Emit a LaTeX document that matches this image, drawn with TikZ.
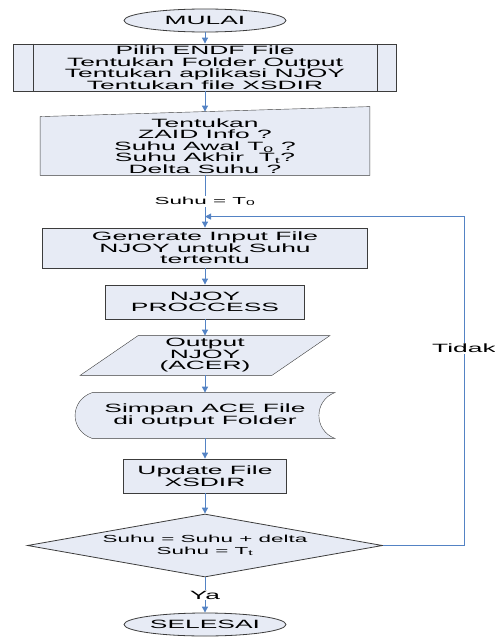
\documentclass[tikz,border=0pt]{standalone}
\usepackage{fontspec}
\setmainfont{Liberation Sans}[FakeStretch=2.2]
\usetikzlibrary{positioning,calc,shapes,shapes.geometric,arrows.meta,backgrounds}
\definecolor{boxfill}{RGB}{231,235,245}
\definecolor{flowblue}{RGB}{84,131,196}
\definecolor{boxedge}{RGB}{60,60,60}

\begin{document}
\begin{tikzpicture}[on grid,line width=0.8pt]
\tikzset{>={Triangle[length=6pt,width=6pt]}}
\tikzset{every node/.style={inner sep=0pt,align=center,font=\fontsize{12}{11.5}\selectfont},
  box/.style={rectangle,draw=boxedge,fill=boxfill},
  term/.style={ellipse,draw=boxedge,fill=boxfill,minimum width=162pt,minimum height=23pt},
  bgshape/.style={draw=boxedge,fill=boxfill},
  small/.style={font=\fontsize{10.2}{12}\selectfont},
  lbl/.style={fill=white,text=black,inner sep=1pt},
  flow/.style={color=flowblue,line width=0.9pt,->}}
\useasboundingbox (-205pt,20.5pt) rectangle (290pt,-616.5pt);
  \node[term] (mulai) {MULAI};
  \node[box,minimum width=383pt,minimum height=47pt] (pilih) [below=47pt of mulai]
       {Pilih ENDF File\\Tentukan Folder Output\\Tentukan aplikasi NJOY\\Tentukan file XSDIR};
  \node[minimum width=329pt,minimum height=58pt] (zaid) [below=78.5pt of pilih]
       {Tentukan\\ZAID Info ?\\Suhu Awal T\textsubscript{0} ?\\Suhu Akhir~ T\textsubscript{t}?\\Delta Suhu ?};
  \node[box,minimum width=325pt,minimum height=40pt] (gen) [below=102pt of zaid]
       {Generate Input File\\NJOY untuk Suhu\\tertentu};
  \node[box,minimum width=199pt,minimum height=34pt] (njoy) [below=54pt of gen]
       {NJOY\\PROCCESS};
  \node[minimum width=249pt,minimum height=39pt] (acer) [below=53.5pt of njoy]
       {Output\\NJOY\\(ACER)};
  \node[minimum width=259pt,minimum height=45pt] (simpan) [below=60pt of acer]
       {Simpan ACE File\\di output Folder};
  \node[box,minimum width=163pt,minimum height=34pt] (upd) [below=60.5pt of simpan]
       {Update File\\XSDIR};
  \node[box,diamond,aspect=5.6,minimum width=355pt,minimum height=63pt,small] (cek) [below=69.5pt of upd]
       {Suhu = Suhu + delta\\Suhu = T\textsubscript{t}};
  \node[term] (selesai) [below=79pt of cek] {SELESAI};
  \coordinate (zaidtop) at ($(zaid.north)+(0,5pt)$);
  % shapes without a ready-made tikz shape
  \begin{scope}[on background layer]
  \path[bgshape] (zaid.north west) -- ($(zaid.north east)+(0,10pt)$)
       -- (zaid.south east) -- (zaid.south west) -- cycle;
  \path[bgshape] (acer.south west) -- ($(acer.north west)+(58pt,0)$)
       -- (acer.north east) -- ($(acer.south east)+(-58pt,0)$) -- cycle;
  \path[bgshape] ($(simpan.north west)+(17pt,0)$) -- (simpan.north east)
       .. controls ($(simpan.east)+(-21.3pt,15pt)$) and ($(simpan.east)+(-21.3pt,-15pt)$) .. (simpan.south east)
       -- ($(simpan.south west)+(17pt,0)$)
       .. controls ($(simpan.west)+(-5.7pt,-15pt)$) and ($(simpan.west)+(-5.7pt,15pt)$) .. ($(simpan.north west)+(17pt,0)$)
       -- cycle;
  \end{scope}
  \draw[boxedge] ($(pilih.north west)+(20pt,0)$) -- ($(pilih.south west)+(20pt,0)$);
  \draw[boxedge] ($(pilih.north east)+(-20pt,0)$) -- ($(pilih.south east)+(-20pt,0)$);
  % connectors
  \path[flow] (mulai) edge (pilih);
  \path[flow] (pilih) edge (zaidtop);
  \path[flow] (zaid) edge node[lbl,small] {Suhu = T\textsubscript{0}} (gen);
  \path[flow] (gen) edge (njoy);
  \path[flow] (njoy) edge (acer);
  \path[flow] (acer) edge (simpan);
  \path[flow] (simpan) edge (upd);
  \path[flow] (upd) edge (cek);
  \path[flow] (cek) edge node[lbl] {Ya} (selesai);
  \coordinate (join) at ($(gen.north)+(0,11pt)$);
  \coordinate (back) at ($(join)+(259pt,0)$);
  \draw[flow] (cek.east) -| node[lbl,pos=0.8] {Tidak} (back) -- (join);
\end{tikzpicture}
\end{document}
